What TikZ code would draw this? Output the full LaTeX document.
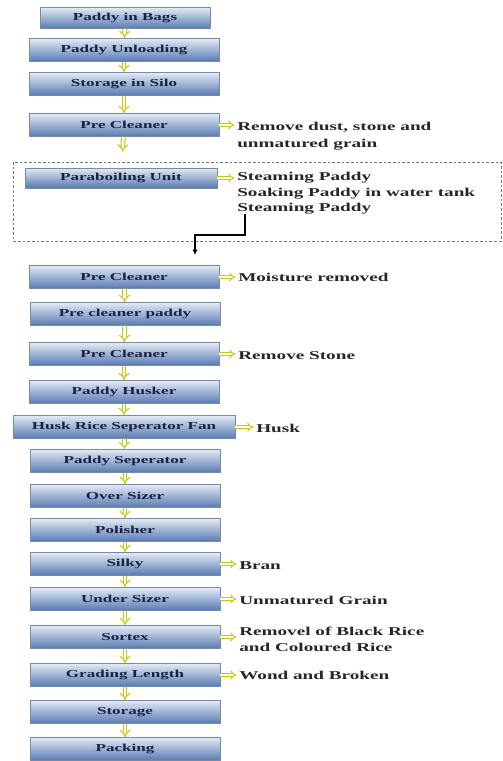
\documentclass[tikz,border=0pt]{standalone}
\usepackage{fontspec}
\setmainfont{Liberation Serif}[FakeStretch=1.6]
\usepackage{tikz}
\usetikzlibrary{arrows.meta}
\definecolor{boxtop}{RGB}{226,234,245}
\definecolor{boxmid}{RGB}{190,207,232}
\definecolor{boxbot}{RGB}{88,122,178}
\definecolor{boxedge}{RGB}{120,138,165}
\definecolor{boxtext}{RGB}{24,34,70}
\definecolor{arrowyel}{RGB}{192,204,10}
\definecolor{framegray}{RGB}{120,120,120}

\tikzset{
  stage/.style={draw=boxedge,line width=0.5pt,top color=boxtop,middle color=boxmid,
    bottom color=boxbot,text=boxtext,font=\fontsize{8}{9.5}\selectfont\bfseries,
    minimum width=142.5pt,minimum height=17.25pt,inner sep=1pt},
  note/.style={anchor=north west,inner sep=0pt,align=left,text=black!85,
    font=\fontsize{9}{11.6}\selectfont\bfseries},
  flowarrow/.style={draw=arrowyel,double=white,double distance=2pt,line width=0.8pt,
    -{Implies}},
  sidearrow/.style={flowarrow,double distance=1.6pt,line width=0.7pt,shorten >=2pt}
}

\begin{document}
\begin{tikzpicture}[x=0.75pt,y=-0.75pt]
  \useasboundingbox (0,0) rectangle (503,761);

  \node[stage,minimum width=127.5pt,minimum height=15.75pt] (b1) at (125,18) {Paddy in Bags};
  \node[stage] (b2) at (124,50) {Paddy Unloading};
  \node[stage] (b3) at (124,84) {Storage in Silo};
  \node[stage] (b4) at (124,125) {Pre Cleaner};

  \draw[framegray,dash pattern=on 2pt off 1.5pt,line width=0.5pt]
    (13,162) rectangle (501,241);
  \node[stage,minimum width=144pt,minimum height=15pt] (b5) at (121,178) {Paraboiling Unit};

  \node[stage] (b6) at (124,277) {Pre Cleaner};
  \node[stage] (b7) at (125,314) {Pre cleaner paddy};
  \node[stage] (b8) at (124,354) {Pre Cleaner};
  \node[stage] (b9) at (124,392) {Paddy Husker};
  \node[stage,minimum width=166.5pt] (b10) at (124,427) {Husk Rice Seperator Fan};
  \node[stage] (b11) at (125,461) {Paddy Seperator};
  \node[stage] (b12) at (125,496) {Over Sizer};
  \node[stage] (b13) at (125,530) {Polisher};
  \node[stage] (b14) at (125,564) {Silky};
  \node[stage] (b15) at (125,599) {Under Sizer};
  \node[stage] (b16) at (125,637) {Sortex};
  \node[stage] (b17) at (125,675) {Grading Length};
  \node[stage] (b18) at (125,712) {Storage};
  \node[stage] (b19) at (125,749) {Packing};

  \node[note] (t4) at (237,122) {Remove dust, stone and\\[1pt]unmatured grain};
  \node[note] (t5) at (237,172) {Steaming Paddy\\Soaking Paddy in water tank\\Steaming Paddy};
  \node[note] (t6) at (238,273) {Moisture removed};
  \node[note] (t8) at (238,351) {Remove Stone};
  \node[note] (t10) at (256,424) {Husk};
  \node[note] (t14) at (239,561) {Bran};
  \node[note] (t15) at (239,596) {Unmatured Grain};
  \node[note] (t16) at (239,627) {Removel of Black Rice\\and Coloured Rice};
  \node[note] (t17) at (239,671) {Wond and Broken};

  \foreach \a/\b in {b1/b2,b2/b3,b3/b4,b6/b7,b7/b8,b8/b9,b9/b10,b10/b11,b11/b12,
                     b12/b13,b13/b14,b14/b15,b15/b16,b16/b17,b17/b18,b18/b19}
    \draw[flowarrow] (\a) -- (\b);
  \draw[flowarrow,shorten >=12pt] (b4) -- (b5);

  \foreach \s/\t in {b4/t4,b5/t5,b6/t6,b8/t8,b10/t10,b14/t14,b15/t15,b16/t16,b17/t17}
    \draw[sidearrow] (\s.east) -- (\s.east -| \t.west);

  \coordinate (kink) at (245,235);
  \coordinate (drop) at (195,255);
  \draw[line width=0.9pt,-{Latex[length=4pt,width=4pt]}]
    ([xshift=6pt]t5.south west) -- (kink) -| (drop);
\end{tikzpicture}
\end{document}
